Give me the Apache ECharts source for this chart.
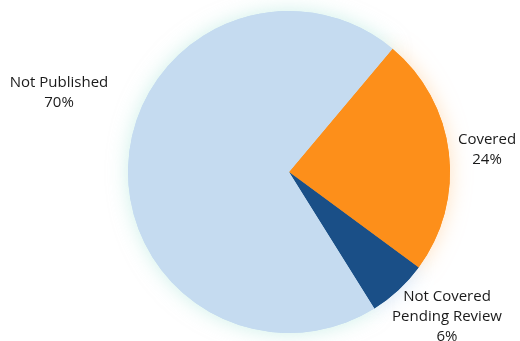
<!DOCTYPE html>
<html>
<head>
<meta charset="utf-8">
<script src="https://cdn.jsdelivr.net/npm/echarts@6/dist/echarts.min.js"></script>
<style>
  html, body { margin: 0; padding: 0; background: #fff; }
  #chart { width: 520px; height: 341px; }
</style>
</head>
<body>
<div id="chart"></div>
<script>
var categories = ['Covered', 'Not Covered\nPending Review', 'Not Published'];
var values = [24, 6, 70];
var colors = ['#FD8F1A', '#1A4F87', '#C5DBF0'];
var glowColors = ['rgba(255,196,130,0.5)', 'rgba(150,190,230,0.45)', 'rgba(165,228,215,0.55)'];
// label anchor points (px) for each slice
var labelPos = [[487, 150], [447, 317], [59, 93]];

var myChart = echarts.init(document.getElementById('chart'));

var glowData = categories.map(function (name, i) {
    return {
        name: name,
        value: values[i],
        itemStyle: { color: colors[i], shadowBlur: 20, shadowColor: glowColors[i] }
    };
});
var pieData = categories.map(function (name, i) {
    return { name: name, value: values[i], itemStyle: { color: colors[i] } };
});

option = {
    animation: false,
    series: [
        {
            type: 'pie',
            silent: true,
            center: [289, 172],
            radius: 161,
            startAngle: 50,
            label: { show: false },
            labelLine: { show: false },
            data: glowData
        },
        {
            type: 'pie',
            center: [289, 172],
            radius: 161,
            startAngle: 50,
            percentPrecision: 0,
            itemStyle: { borderWidth: 0 },
            label: {
                show: true,
                position: 'inside',
                formatter: '{b}\n{d}%',
                fontFamily: 'Open Sans',
                fontSize: 15,
                lineHeight: 20,
                color: '#1a1a1a',
                align: 'center',
                overflow: 'none'
            },
            labelLine: { show: false },
            labelLayout: function (params) {
                var p = labelPos[params.dataIndex];
                return { x: p[0], y: p[1], align: 'center', verticalAlign: 'middle', hideOverlap: false };
            },
            data: pieData
        }
    ]
};
myChart.setOption(option);
</script>
</body>
</html>
